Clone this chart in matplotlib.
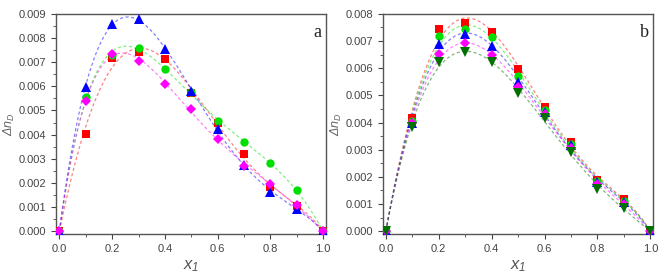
import numpy as np
import matplotlib
matplotlib.use('Agg')
from matplotlib import pyplot as plt
from matplotlib.ticker import MultipleLocator

plt.rcParams['font.family'] = ['Liberation Sans', 'DejaVu Sans']
plt.rcParams['mathtext.fontset'] = 'custom'
plt.rcParams['mathtext.it'] = 'Liberation Sans:italic'
plt.rcParams['mathtext.rm'] = 'Liberation Sans:italic'

x1 = [0.0, 0.1, 0.2, 0.3, 0.4, 0.5, 0.6, 0.7, 0.8, 0.9, 1.0]

# panel a
a_red = [0.0, 0.00401, 0.00719, 0.00744, 0.00713, 0.00572, 0.00447, 0.00318, 0.00184, 0.00104, 0.0]
a_green = [0.0, 0.00555, 0.00730, 0.00758, 0.00670, 0.00578, 0.00455, 0.00369, 0.00283, 0.00169, 0.0]
a_blue = [0.0, 0.00599, 0.00857, 0.00879, 0.00756, 0.00580, 0.00422, 0.00276, 0.00163, 0.00093, 0.0]
a_magenta = [0.0, 0.00539, 0.00733, 0.00706, 0.00610, 0.00505, 0.00381, 0.00271, 0.00194, 0.00107, 0.0]

# panel b
b_red = [0.0, 0.00415, 0.00744, 0.00768, 0.00735, 0.00598, 0.00458, 0.00329, 0.00188, 0.00119, 0.0]
b_green = [0.0, 0.00406, 0.00720, 0.00745, 0.00714, 0.00571, 0.00446, 0.00321, 0.00183, 0.00112, 0.0]
b_blue = [0.0, 0.00399, 0.00689, 0.00726, 0.00682, 0.00548, 0.00437, 0.00317, 0.00181, 0.00107, 0.0]
b_magenta = [0.0, 0.00397, 0.00651, 0.00692, 0.00649, 0.00530, 0.00431, 0.00308, 0.00173, 0.00100, 0.0]
b_dkgreen = [0.0, 0.00385, 0.00621, 0.00661, 0.00621, 0.00509, 0.00418, 0.00290, 0.00156, 0.00087, 0.0]

series_a = [(a_red, '#ff0000', 's'), (a_green, '#00e000', 'o'),
            (a_blue, '#0000ff', '^'), (a_magenta, '#ff00ff', 'D')]
series_b = [(b_red, '#ff0000', 's'), (b_green, '#00e000', 'o'),
            (b_blue, '#0000ff', '^'), (b_magenta, '#ff00ff', 'D'),
            (b_dkgreen, '#007000', 'v')]


def rk_fit(x, y, n=4):
    # Redlich-Kister fit to the measured points
    x = np.asarray(x)
    A = np.column_stack([x * (1 - x) * (2 * x - 1) ** k for k in range(n)])
    coef = np.linalg.lstsq(A, np.asarray(y), rcond=None)[0]
    xs = np.linspace(0, 1, 200)
    B = np.column_stack([xs * (1 - xs) * (2 * xs - 1) ** k for k in range(n)])
    return xs, B @ coef


def draw_panel(ax, series, ymax, letter):
    for y, col, mk in series:
        xs, ys = rk_fit(x1, y)
        ax.plot(xs, ys, linestyle=(0, (2.5, 2)), color=col, alpha=0.5, lw=0.9)
    for y, col, mk in series:
        ms = 6 if mk in ('s', 'o') else 6.5
        if mk == 'D':
            ms = 5
        ax.plot(x1, y, mk, color=col, markersize=ms, markeredgewidth=0, zorder=3)
    ax.set_xlim(-0.012, 1.01)
    ax.set_ylim(-0.00012 * ymax / 0.009, ymax)
    ax.xaxis.set_major_locator(MultipleLocator(0.2))
    ax.xaxis.set_minor_locator(MultipleLocator(0.1))
    ax.yaxis.set_major_locator(MultipleLocator(0.001))
    ax.yaxis.set_minor_locator(MultipleLocator(0.0005))
    ax.xaxis.set_major_formatter(plt.FuncFormatter(lambda v, p: f'{v:.1f}'))
    ax.yaxis.set_major_formatter(plt.FuncFormatter(lambda v, p: f'{v:.3f}'))
    ax.tick_params(which='both', direction='out', labelsize=8, colors='#444444',
                   top=False, right=False)
    ax.tick_params(which='major', length=3.5)
    ax.tick_params(which='minor', length=2)
    for s in ax.spines.values():
        s.set_color('#555555')
        s.set_linewidth(1)
    ax.set_xlabel(r'$x_1$', fontsize=12, color='#555555', labelpad=3)
    ax.set_ylabel(r'$\Delta n_D$', fontsize=9, color='#666666', labelpad=1)
    ax.text(0.985, 0.955, letter, transform=ax.transAxes, ha='right', va='top',
            fontsize=13, family='Liberation Serif', color='#222222')


fig = plt.figure(figsize=(6.69, 2.77), dpi=100)
ax1 = fig.add_axes([0.084, 0.155, 0.403, 0.795])
ax2 = fig.add_axes([0.572, 0.155, 0.404, 0.795])
draw_panel(ax1, series_a, 0.009, 'a')
draw_panel(ax2, series_b, 0.008, 'b')

fig.savefig('out.png', dpi=100)
